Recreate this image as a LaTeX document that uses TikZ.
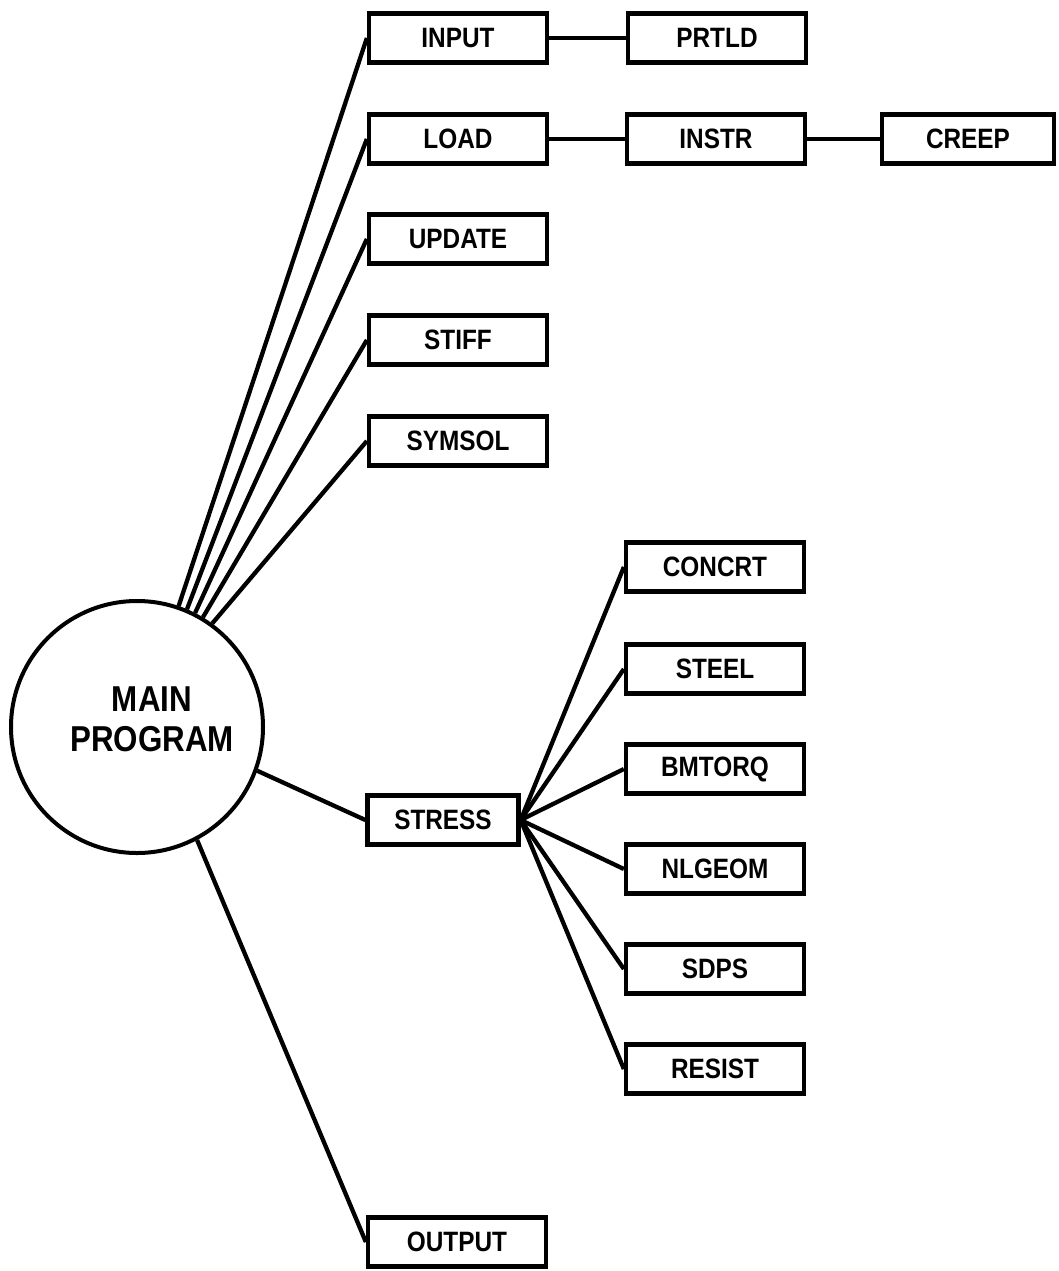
\documentclass[tikz,border=0pt]{standalone}
\usepackage{fontspec}
\setmainfont{Liberation Sans}[FakeStretch=0.87]
\begin{document}
\begin{tikzpicture}[x=1pt,y=-1pt,
  every node/.style={font=\bfseries},
  routine/.style={draw, line width=4.3pt, minimum width=178pt, minimum height=49pt,
    inner sep=0pt, font=\bfseries\fontsize{28}{30}\selectfont},
  link/.style={line width=4.3pt},
  prog/.style={draw, circle, line width=4pt, minimum size=252pt, inner sep=0pt}]
\useasboundingbox (0,0) rectangle (1058,1271);

% main program
\node[prog] (main) at (137,727) {};
\node[align=center, font=\bfseries\fontsize{36}{40}\selectfont] (mainlabel) at (152,719) {MAIN\\PROGRAM};

% first level routines
\node[routine] (input)  at (458,38)  {INPUT};
\node[routine] (load)   at (458,139) {LOAD};
\node[routine] (update) at (458,239) {UPDATE};
\node[routine] (stiff)  at (458,340) {STIFF};
\node[routine] (symsol) at (458,441) {SYMSOL};
\node[routine, minimum width=151pt] (stress) at (443,820) {STRESS};
\node[routine] (output) at (457,1242) {OUTPUT};

% second and third level routines
\node[routine] (prtld) at (717,38)  {PRTLD};
\node[routine] (instr) at (716,139) {INSTR};
\node[routine, minimum width=172pt] (creep) at (968,139) {CREEP};

\node[routine] (concrt) at (715,567)  {CONCRT};
\node[routine] (steel)  at (715,669)  {STEEL};
\node[routine] (bmtorq) at (715,769)  {BMTORQ};
\node[routine] (nlgeom) at (715,869)  {NLGEOM};
\node[routine] (sdps)   at (715,969)  {SDPS};
\node[routine] (resist) at (715,1069) {RESIST};

% calls from the main program
\draw[link] (main.71) -- (input.west);
\draw[link] (main.67) -- (load.west);
\draw[link] (main.63) -- (update.west);
\draw[link] (main.59) -- (stiff.west);
\draw[link] (main.54) -- (symsol.west);
\draw[link] (main.-20) -- (stress.west);
\draw[link] (main.-62) -- (output.west);

% nested calls
\draw[link] (input.east) -- (prtld.west);
\draw[link] (load.east) -- (instr.west);
\draw[link] (instr.east) -- (creep.west);

\foreach \sub in {concrt,steel,bmtorq,nlgeom,sdps,resist}
  \draw[link] (stress.east) -- (\sub.west);
\end{tikzpicture}
\end{document}
